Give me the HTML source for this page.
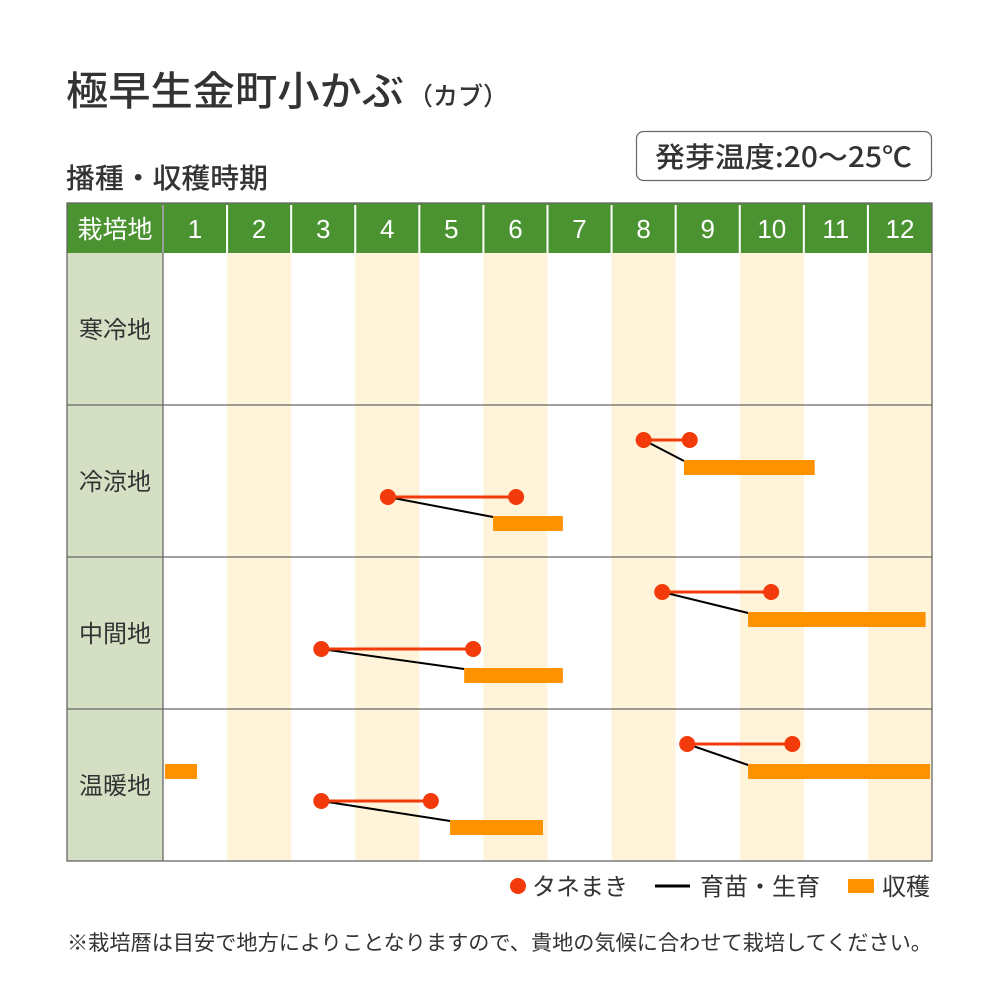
<!DOCTYPE html>
<html><head><meta charset="utf-8">
<style>
body{margin:0;background:#fff;}
svg{display:block;font-family:"Liberation Sans","Noto Sans CJK JP",sans-serif;}
</style></head>
<body>
<svg id="chart" width="1000" height="1000" viewBox="0 0 1000 1000">
<text x="66" y="105" font-size="40" font-weight="500" fill="#333" font-family="'Noto Sans CJK JP',sans-serif"><tspan textLength="338" lengthAdjust="spacingAndGlyphs">極早生金町小かぶ</tspan><tspan font-size="25" dx="4">（カブ）</tspan></text>
<text x="66" y="188" font-size="28" font-weight="500" fill="#333" font-family="'Noto Sans CJK JP',sans-serif" textLength="202" lengthAdjust="spacingAndGlyphs">播種・収穫時期</text>
<rect x="636.5" y="131.5" width="295" height="49" rx="7" fill="#fff" stroke="#666" stroke-width="1.2"/>
<text x="655" y="167" font-size="28" font-weight="500" fill="#333" font-family="'Noto Sans CJK JP',sans-serif" textLength="257" lengthAdjust="spacingAndGlyphs">発芽温度:20〜25℃</text>
<g id="grid"></g>
<g id="marks"></g>
<g>
<circle cx="518" cy="886" r="8" fill="#f23a0a"/>
<text x="532" y="895" font-size="24" fill="#333">タネまき</text>
<line x1="655" y1="886" x2="690" y2="886" stroke="#000" stroke-width="3"/>
<text x="700" y="895" font-size="24" fill="#333">育苗・生育</text>
<rect x="848" y="879" width="26" height="14" fill="#ff9200"/>
<text x="882" y="895" font-size="24" fill="#333">収穫</text>
</g>
<text x="67" y="950" font-size="21" fill="#333" textLength="865" lengthAdjust="spacingAndGlyphs">※栽培暦は目安で地方によりことなりますので、貴地の気候に合わせて栽培してください。</text>
</svg>
<script>
const months = ["1","2","3","4","5","6","7","8","9","10","11","12"];
const regions = ["寒冷地","冷涼地","中間地","温暖地"];
// plans: region index, lane, sowing start, sowing end, harvest start, harvest end (in months from Jan 1 start)
const planRegion = [1, 1, 2, 2, 3, 3];
const planLane = [1, 0, 0, 1, 0, 1];
const sowStart = [3.51, 7.5, 7.79, 2.47, 8.18, 2.47];
const sowEnd = [5.51, 8.22, 9.49, 4.84, 9.82, 4.18];
const harvestStart = [5.15, 8.13, 9.13, 4.7, 9.13, 4.48];
const harvestEnd = [6.24, 10.17, 11.9, 6.24, 11.97, 5.93];
// harvest-only entries
const extraRegion = [3];
const extraLane = [0];
const extraStart = [0.03];
const extraEnd = [0.53];

const NS="http://www.w3.org/2000/svg";
const L=67,LW=96,X0=163,X1=932,HT=203,HB=253,RH=152;
const CW=(X1-X0)/12;
const xS=v=>X0+v*CW;
const rowTop=i=>HB+i*RH;
const dotY=(r,l)=>rowTop(r)+(l===0?35:92);
const barY=(r,l)=>rowTop(r)+(l===0?55:111);
function mk(tag,attrs,parent){const e=document.createElementNS(NS,tag);for(const k in attrs)e.setAttribute(k,attrs[k]);parent.appendChild(e);return e;}
const g=document.getElementById('grid'), m=document.getElementById('marks');
const bottom=HB+regions.length*RH;
months.forEach((mo,i)=>{
  if(i%2===1){const r=mk('rect',{x:xS(i),y:HB,width:CW,height:bottom-HB,fill:'#fff4d9'},g);
  
  }
});
const hb=mk('rect',{x:L,y:HT,width:X1-L,height:HB-HT,fill:'#4b9330'},g);


const ht=mk('text',{x:L+LW/2,y:HT+35,'font-size':25,fill:'#fff','text-anchor':'middle'},g);ht.textContent='栽培地';


months.forEach((mo,i)=>{
  const t=mk('text',{x:xS(i)+CW/2,y:HT+35,'font-size':26,fill:'#fff','text-anchor':'middle'},g);t.textContent=mo;
  
  
  mk('line',{x1:xS(i),y1:HT+2,x2:xS(i),y2:HB,stroke:'#fff','stroke-width':2},g);
});
regions.forEach((rg,i)=>{
  const c=mk('rect',{x:L,y:rowTop(i),width:LW,height:RH,fill:'#d5dfc4'},g);
  
  
  const t=mk('text',{x:L+LW/2,y:rowTop(i)+RH/2+9,'font-size':24,fill:'#333','text-anchor':'middle'},g);t.textContent=rg;
  
  
  if(i>0) mk('line',{x1:L,y1:rowTop(i),x2:X1,y2:rowTop(i),stroke:'#666','stroke-width':1.3},g);
});
mk('line',{x1:X0,y1:HT,x2:X0,y2:bottom,stroke:'#666','stroke-width':1.3},g);
mk('rect',{x:L,y:HT,width:X1-L,height:bottom-HT,fill:'none',stroke:'#666','stroke-width':1.3},g);
extraStart.forEach((s,i)=>{
  const r=mk('rect',{x:xS(s),y:barY(extraRegion[i],extraLane[i]),width:xS(extraEnd[i])-xS(s),height:15,fill:'#ff9200'},m);
  
  
});
sowStart.forEach((s,i)=>{
  const r=planRegion[i],l=planLane[i];
  const dy=dotY(r,l),by=barY(r,l);
  const gl=mk('line',{x1:xS(s),y1:dy,x2:xS(harvestStart[i]),y2:by+1,stroke:'#000','stroke-width':2},m);
  
  
  const b=mk('rect',{x:xS(harvestStart[i]),y:by,width:xS(harvestEnd[i])-xS(harvestStart[i]),height:15,fill:'#ff9200'},m);
  
  
  const sl=mk('line',{x1:xS(s),y1:dy,x2:xS(sowEnd[i]),y2:dy,stroke:'#f23a0a','stroke-width':3},m);
  
  
  [s,sowEnd[i]].forEach(v=>{
    const c=mk('circle',{cx:xS(v),cy:dy,r:8,fill:'#f23a0a'},m);
    
    
  });
});
</script>
</body></html>
